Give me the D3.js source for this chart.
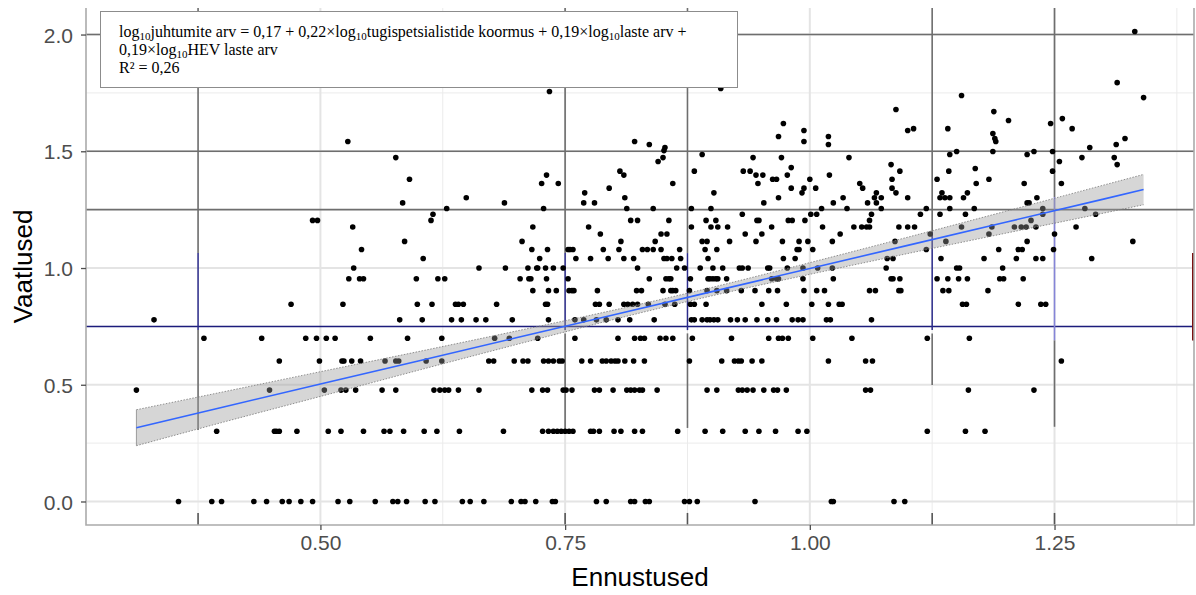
<!DOCTYPE html>
<html>
<head>
<meta charset="utf-8">
<script src="https://cdn.jsdelivr.net/npm/d3@7"></script>
<style>
    body { margin: 0; background: #ffffff; }
    svg { display: block; }
</style>
</head>
<body>
<svg id="chart" width="1196" height="595"></svg>
<script>
// observed values come in discrete levels (log10 of counts)
var levels = [0, 0.301, 0.477, 0.602, 0.699, 0.778, 0.845, 0.903, 0.954, 1.0,
              1.041, 1.079, 1.114, 1.146, 1.176, 1.204, 1.23, 1.255, 1.279,
              1.301, 1.322, 1.342, 1.362, 1.38, 1.398, 1.415];

// predicted values for each observed level above
var predictedByLevel = [
    [0.355,0.389,0.399,0.432,0.445,0.461,0.468,0.480,0.492,0.518,0.530,0.556,0.574,0.579,0.588,0.607,0.617,0.645,0.653,0.667,0.695,0.705,0.709,0.720,0.737,0.740,0.782,0.792,0.817,0.821,0.832,0.836,0.872,0.877,0.885,0.944,1.022,1.024,1.086,1.097],
    [0.394,0.453,0.455,0.458,0.476,0.508,0.521,0.544,0.565,0.571,0.585,0.606,0.619,0.642,0.687,0.727,0.733,0.738,0.742,0.746,0.750,0.754,0.758,0.776,0.779,0.785,0.800,0.807,0.821,0.829,0.865,0.893,0.911,0.934,0.948,0.965,0.988,0.997,1.120,1.159,1.179],
    [0.312,0.448,0.504,0.521,0.526,0.536,0.563,0.577,0.616,0.622,0.627,0.631,0.641,0.662,0.716,0.727,0.732,0.748,0.751,0.757,0.780,0.785,0.799,0.813,0.817,0.821,0.826,0.829,0.844,0.895,0.905,0.927,0.931,0.936,0.942,0.953,0.963,0.967,0.976,1.057,1.062,1.162,1.229],
    [0.458,0.499,0.522,0.524,0.532,0.541,0.566,0.577,0.580,0.608,0.624,0.672,0.677,0.698,0.707,0.712,0.728,0.733,0.738,0.744,0.747,0.767,0.776,0.788,0.792,0.797,0.801,0.804,0.811,0.820,0.831,0.877,0.910,0.923,0.927,0.930,0.941,0.951,1.019,1.057,1.064,1.257],
    [0.381,0.440,0.485,0.496,0.506,0.515,0.551,0.589,0.624,0.678,0.693,0.722,0.760,0.804,0.821,0.827,0.831,0.847,0.853,0.860,0.880,0.920,0.958,0.968,0.972,0.978,1.003,1.043,1.120,1.163],
    [0.330,0.581,0.604,0.634,0.644,0.659,0.669,0.696,0.733,0.760,0.769,0.782,0.792,0.804,0.816,0.841,0.879,0.882,0.890,0.895,0.898,0.902,0.906,0.919,0.926,0.934,0.946,0.957,0.966,0.982,0.988,0.993,1.017,1.021,1.063],
    [0.470,0.523,0.599,0.614,0.638,0.641,0.646,0.680,0.730,0.732,0.781,0.785,0.795,0.810,0.814,0.819,0.824,0.835,0.852,0.862,0.878,0.882,0.894,0.951,0.976,1.002,1.019,1.030,1.033,1.156,1.160,1.213,1.236,1.241],
    [0.717,0.733,0.741,0.754,0.757,0.759,0.783,0.823,0.828,0.850,0.858,0.860,0.863,0.877,0.895,0.905,0.915,0.930,0.944,0.958,0.967,0.994,1.007,1.015,1.061,1.067,1.091,1.093,1.136,1.142,1.182],
    [0.529,0.540,0.544,0.598,0.620,0.627,0.704,0.713,0.715,0.731,0.753,0.836,0.853,0.856,0.858,0.878,0.896,0.898,0.901,0.904,0.906,0.915,0.961,0.966,0.968,0.993,1.024,1.083,1.085,1.092,1.130,1.141,1.152,1.161,1.194,1.198,1.218],
    [0.534,0.662,0.689,0.712,0.721,0.722,0.730,0.738,0.748,0.824,0.864,0.872,0.888,0.901,0.911,0.928,0.931,0.937,0.957,0.959,0.977,0.993,1.008,1.023,1.078,1.150,1.153,1.197],
    [0.605,0.724,0.761,0.776,0.794,0.810,0.820,0.851,0.854,0.859,0.868,0.896,0.973,0.985,1.079,1.085,1.134,1.178,1.211,1.231,1.238,1.288],
    [0.542,0.716,0.732,0.753,0.755,0.758,0.789,0.805,0.829,0.834,0.840,0.848,0.867,0.893,0.905,0.987,0.989,1.003,1.119,1.193,1.213,1.217,1.249],
    [0.586,0.706,0.807,0.842,0.890,0.895,0.918,0.945,0.972,0.989,0.998,1.023,1.087,1.139,1.222,1.330],
    [0.786,0.848,0.854,0.934,0.951,1.031,1.123,1.183,1.250],
    [0.533,0.717,0.774,0.879,0.899,0.906,0.916,0.961,1.013,1.045,1.053,1.058,1.061,1.091,1.100,1.107,1.155,1.186,1.209,1.216,1.221,1.231,1.272],
    [0.492,0.497,0.613,0.817,0.824,0.856,0.894,0.904,0.946,0.948,0.978,0.982,0.995,1.061,1.226],
    [0.615,0.931,1.001,1.007,1.063,1.113,1.133,1.159,1.238,1.292],
    [0.629,0.728,0.813,0.840,0.879,0.899,1.012,1.038,1.073,1.119,1.143,1.168,1.238,1.281],
    [0.584,0.688,0.769,0.780,0.953,1.024,1.059,1.068,1.222,1.224],
    [0.649,0.811,0.968,1.034,1.066,1.073,1.100,1.133,1.138,1.143,1.157,1.232],
    [0.770,0.902,0.992,1.068,1.088,1.135,1.161],
    [0.795,0.981,0.994,1.006,1.054,1.084],
    [0.726,0.743,0.860,0.947,1.051,1.170,1.219,1.257],
    [0.591,0.962,0.966,1.000,1.084,1.130,1.183],
    [0.731,0.810,0.945,0.952,0.977,1.020],
    [0.806,0.882,0.932,0.939,1.092,1.142,1.248]
];

// sparse points in the upper part of the cloud
var highPredicted = [0.981,1.083,1.169,1.314,0.577,0.845,0.850,0.942,0.971,1.040,1.278,1.311,1.255,
                     0.851,0.852,0.890,1.143,1.150,1.187,1.222,1.229,1.248,1.286,
                     0.528,0.821,0.836,0.994,1.019,0.968,1.019,1.189,1.190,1.313,1.322,
                     0.973,0.994,1.100,1.106,1.141,1.187,1.203,1.246,1.258,1.268,
                     1.088,1.188,1.155,1.341,0.734,0.909,1.314,1.332];
var highObserved  = [1.430,1.443,1.426,1.443,1.473,1.456,1.473,1.473,1.473,1.473,1.473,1.473,1.456,
                     1.503,1.516,1.486,1.486,1.499,1.499,1.486,1.499,1.499,1.516,
                     1.542,1.542,1.529,1.542,1.529,1.563,1.563,1.555,1.542,1.529,1.555,
                     1.619,1.589,1.589,1.597,1.597,1.576,1.632,1.619,1.640,1.597,
                     1.679,1.670,1.739,1.730,1.756,1.769,1.794,2.013];

// linear fit with its confidence band
var fitX   = [0.312, 0.4, 0.5, 0.6, 0.7, 0.8, 0.9, 1.0, 1.1, 1.2, 1.3, 1.341];
var fitY   = [0.316, 0.404, 0.503, 0.602, 0.701, 0.800, 0.899, 0.998, 1.097, 1.196, 1.295, 1.336];
var fitLow = [0.239, 0.339, 0.450, 0.562, 0.672, 0.780, 0.881, 0.973, 1.062, 1.149, 1.235, 1.271];
var fitHigh= [0.393, 0.469, 0.556, 0.642, 0.730, 0.820, 0.917, 1.023, 1.132, 1.243, 1.355, 1.401];

var xTicks = [0.5, 0.75, 1.0, 1.25];
var yTicks = [0, 0.5, 1.0, 1.5, 2.0];
var xMinor = [0.375, 0.625, 0.875, 1.125, 1.375];
var yMinor = [0.25, 0.75, 1.25, 1.75];

// stray overlay lines that show on top of the grid
var darkRows = [2.0, 1.5, 1.25];
var navyRows = [0.75];
var overlayCols = [
    { x: 0.375, dark: [1.064, 2.2], navy: [0.734, 1.064], low: [0.306, 0.734] },
    { x: 0.75,  dark: [1.064, 2.2], navy: [0.734, 1.064], low: [0.306, 0.72] },
    { x: 0.875, dark: [1.064, 2.2], navy: [0.734, 1.064], low: [0.315, 0.72] },
    { x: 1.125, dark: [1.154, 2.2], navy: [0.734, 1.154], low: [0.499, 0.72] },
    { x: 1.25,  dark: [1.304, 2.2], pale: [0.69, 1.304],  low: [0.32, 0.69] }
];

var equationLines = [
    [["log", 0], ["10", 1], ["juhtumite arv = 0,17 + 0,22×log", 0], ["10", 1],
     ["tugispetsialistide koormus + 0,19×log", 0], ["10", 1], ["laste arv +", 0]],
    [["0,19×log", 0], ["10", 1], ["HEV laste arv", 0]],
    [["R² = 0,26", 0]]
];

var xTitle = "Ennustused";
var yTitle = "Vaatlused";

(function(){

    var svg = d3.select("#chart");
    var panel = { left: 86, right: 1194, top: 8, bottom: 525 };

    var x = d3.scaleLinear().domain([0.2605, 1.3925])
                .range([panel.left, panel.right]);
    var y = d3.scaleLinear().domain([-0.1007, 2.1137])
                .range([panel.bottom, panel.top]);

    var yTop = y.domain()[1], yBot = y.domain()[0];
    var xLeft = x.domain()[0], xRight = x.domain()[1];

    //
    // grid: light minor and major lines
    //
    var grid = svg.append("g");
    grid.selectAll(".ymin").data(yMinor).join("line")
        .attr("x1", x(xLeft)).attr("x2", x(xRight))
        .attr("y1", d => y(d)).attr("y2", d => y(d))
        .attr("stroke", "#ebebeb").attr("stroke-width", 1);
    grid.selectAll(".xmin").data(xMinor).join("line")
        .attr("y1", y(yBot)).attr("y2", y(yTop))
        .attr("x1", d => x(d)).attr("x2", d => x(d))
        .attr("stroke", "#ebebeb").attr("stroke-width", 1);
    grid.selectAll(".ymaj").data(yTicks).join("line")
        .attr("x1", x(xLeft)).attr("x2", x(xRight))
        .attr("y1", d => y(d)).attr("y2", d => y(d))
        .attr("stroke", "#e4e4e4").attr("stroke-width", 2);
    grid.selectAll(".xmaj").data(xTicks).join("line")
        .attr("y1", y(yBot)).attr("y2", y(yTop))
        .attr("x1", d => x(d)).attr("x2", d => x(d))
        .attr("stroke", "#e4e4e4").attr("stroke-width", 2);

    //
    // overlay lines (dark grey / navy)
    //
    var over = svg.append("g");
    over.selectAll(".drow").data(darkRows).join("line")
        .attr("x1", x(xLeft)).attr("x2", x(xRight))
        .attr("y1", d => y(d)).attr("y2", d => y(d))
        .attr("stroke", "#6e6e6e").attr("stroke-width", 1.6);
    over.selectAll(".nrow").data(navyRows).join("line")
        .attr("x1", x(xLeft)).attr("x2", x(xRight))
        .attr("y1", d => y(d)).attr("y2", d => y(d))
        .attr("stroke", "#1c1c7c").attr("stroke-width", 1.5);

    function seg(xv, range, color, w) {
        over.append("line")
            .attr("x1", x(xv)).attr("x2", x(xv))
            .attr("y1", y(Math.min(range[1], yTop))).attr("y2", y(range[0]))
            .attr("stroke", color).attr("stroke-width", w);
    }
    overlayCols.forEach(function(c) {
        seg(c.x, c.dark, "#6e6e6e", 1.6);
        if (c.navy) seg(c.x, c.navy, "#2a2a8a", 1.5);
        if (c.pale) seg(c.x, c.pale, "#8585d8", 1.6);
        seg(c.x, c.low, "#6e6e6e", 1.6);
        seg(c.x, [yBot, -0.049], "#555555", 1.6);
    });
    // short dark red piece on the right edge
    over.append("line")
        .attr("x1", x(xRight) - 1).attr("x2", x(xRight) - 1)
        .attr("y1", y(1.064)).attr("y2", y(0.69))
        .attr("stroke", "#7a1010").attr("stroke-width", 2);

    //
    // points
    //
    var pts = [];
    levels.forEach(function(lv, i) {
        predictedByLevel[i].forEach(function(p) { pts.push([p, lv]); });
    });
    highPredicted.forEach(function(p, i) { pts.push([p, highObserved[i]]); });

    svg.append("g").selectAll("circle").data(pts).join("circle")
        .attr("cx", d => x(d[0]))
        .attr("cy", d => y(d[1]))
        .attr("r", 2.8)
        .attr("fill", "#000000");

    //
    // confidence band and fitted line
    //
    var band = fitX.map(function(v, i) { return [v, fitLow[i], fitHigh[i], fitY[i]]; });
    var area = d3.area().curve(d3.curveMonotoneX)
                 .x(d => x(d[0])).y0(d => y(d[1])).y1(d => y(d[2]));
    svg.append("path").datum(band)
        .attr("d", area)
        .attr("fill", "#999999").attr("fill-opacity", 0.4);
    ["1", "2"].forEach(function(k) {
        var edge = d3.line().curve(d3.curveMonotoneX)
                     .x(d => x(d[0])).y(d => y(d[+k]));
        svg.append("path").datum(band)
            .attr("d", edge).attr("fill", "none")
            .attr("stroke", "#777777").attr("stroke-width", 0.8)
            .attr("stroke-dasharray", "1.5,1.5");
    });
    svg.append("line")
        .attr("x1", x(fitX[0])).attr("x2", x(fitX[0]))
        .attr("y1", y(fitLow[0])).attr("y2", y(fitHigh[0]))
        .attr("stroke", "#888888").attr("stroke-width", 0.8);
    svg.append("path").datum(band)
        .attr("d", d3.line().x(d => x(d[0])).y(d => y(d[3])))
        .attr("fill", "none")
        .attr("stroke", "#3366ff").attr("stroke-width", 1.6);

    //
    // panel border (left, bottom, right)
    //
    svg.append("path")
        .attr("d", "M" + x(xLeft) + "," + y(yTop) + "V" + y(yBot) +
                   "H" + x(xRight) + "V" + y(yTop))
        .attr("fill", "none").attr("stroke", "#ababab").attr("stroke-width", 1.6);

    //
    // axes
    //
    var xAxis = d3.axisBottom(x).tickValues(xTicks)
                  .tickFormat(d3.format(".2f")).tickSize(5).tickPadding(5);
    var gx = svg.append("g")
                .attr("transform", "translate(0," + panel.bottom + ")")
                .call(xAxis);
    var yAxis = d3.axisLeft(y).tickValues(yTicks)
                  .tickFormat(d3.format(".1f")).tickSize(5).tickPadding(8);
    var gy = svg.append("g")
                .attr("transform", "translate(" + panel.left + ",0)")
                .call(yAxis);
    [gx, gy].forEach(function(g) {
        g.select(".domain").remove();
        g.selectAll(".tick line").attr("stroke", "#4d4d4d").attr("stroke-width", 1.3);
        g.selectAll(".tick text")
            .attr("fill", "#4d4d4d")
            .style("font-family", "'Liberation Sans', Arial, sans-serif")
            .style("font-size", "21px");
    });
    gy.selectAll(".tick text").attr("dy", "0.36em");

    svg.append("text")
        .attr("x", (panel.left + panel.right) / 2).attr("y", 586)
        .attr("text-anchor", "middle")
        .style("font-family", "'Liberation Sans', Arial, sans-serif")
        .style("font-size", "26px")
        .text(xTitle);
    svg.append("text")
        .attr("transform", "translate(32," + ((panel.top + panel.bottom) / 2) + ") rotate(-90)")
        .attr("text-anchor", "middle")
        .style("font-family", "'Liberation Sans', Arial, sans-serif")
        .style("font-size", "26px")
        .text(yTitle);

    //
    // equation box
    //
    svg.append("rect")
        .attr("x", 100.5).attr("y", 11.5).attr("width", 637).attr("height", 76)
        .attr("fill", "#ffffff").attr("stroke", "#8c8c8c").attr("stroke-width", 1);
    var eq = svg.append("text")
                .style("font-family", "'Liberation Serif', 'Times New Roman', serif")
                .style("font-size", "16px")
                .attr("fill", "#000000");
    var baselines = [36.5, 54.5, 72.5];
    equationLines.forEach(function(parts, i) {
        parts.forEach(function(p, j) {
            var t = eq.append("tspan").text(p[0]);
            if (j === 0) t.attr("x", 119).attr("y", baselines[i]);
            if (p[1]) {
                t.style("font-size", "11px").attr("dy", 3);
            } else if (j > 0 && parts[j - 1][1]) {
                t.attr("dy", -3);
            }
        });
    });
})();
</script>
</body>
</html>
